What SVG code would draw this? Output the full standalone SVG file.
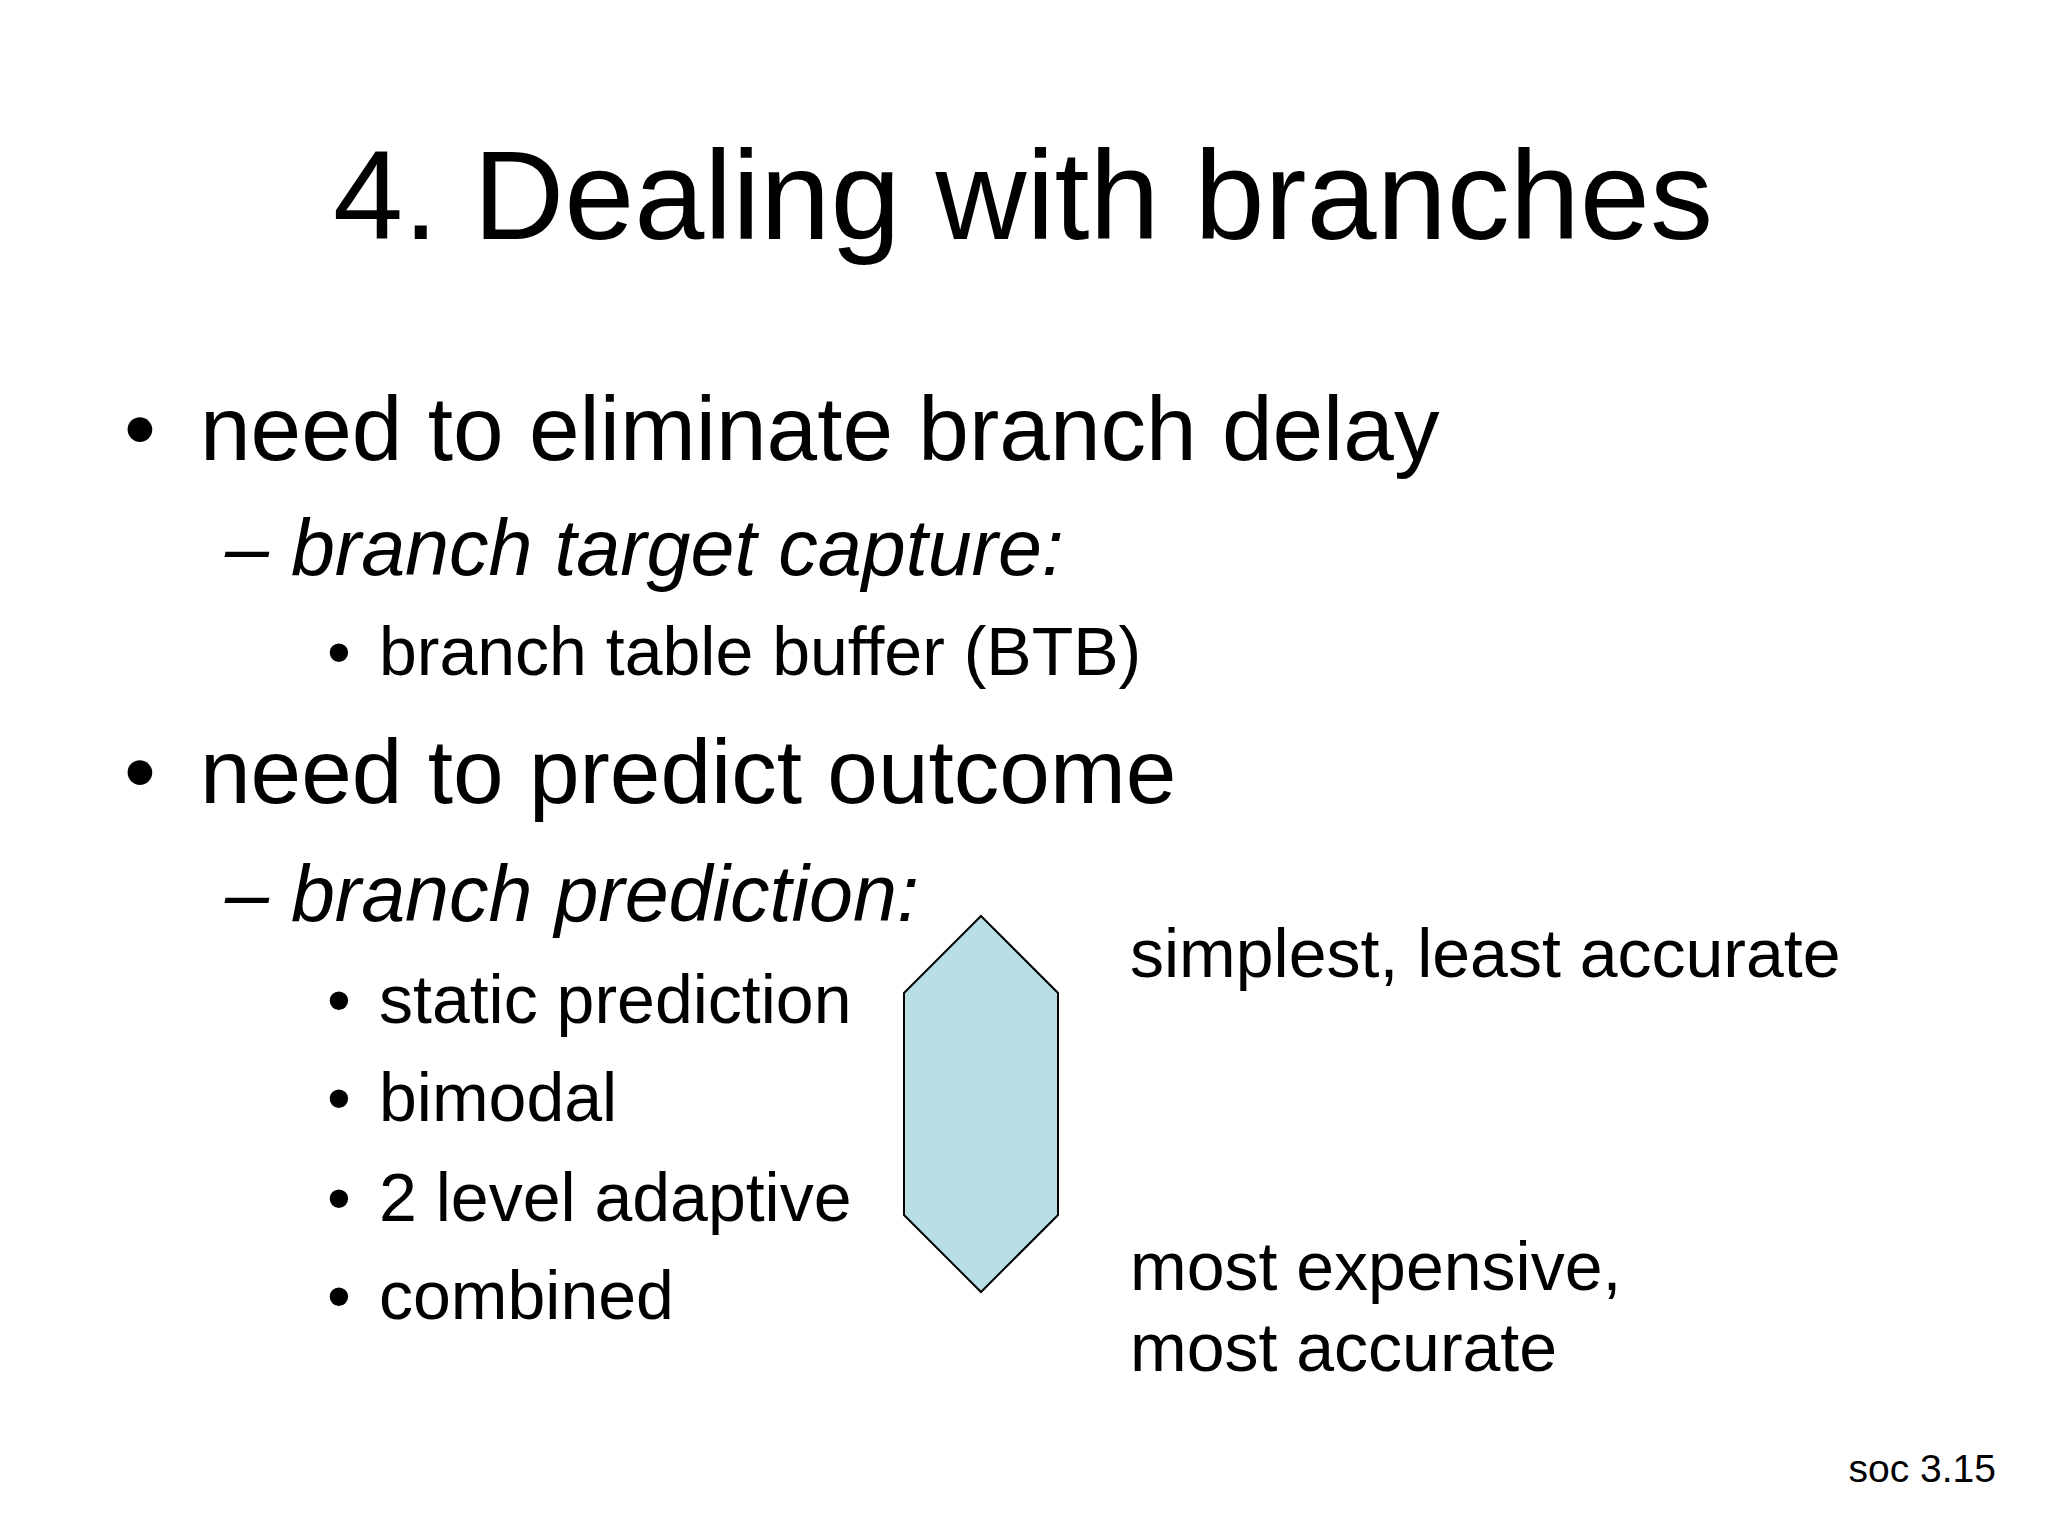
<svg xmlns="http://www.w3.org/2000/svg" width="2048" height="1536" viewBox="0 0 2048 1536">
<style>
text{font-family:"Liberation Sans",Arial,sans-serif;fill:#000}
.l1{font-size:91px}.l2{font-size:79px;font-style:italic}.l3{font-size:68px}
</style>
<rect width="2048" height="1536" fill="#fff"/>
<text x="1023" y="239" font-size="126" text-anchor="middle">4. Dealing with branches</text>
<text class="l1" x="124" y="460">•</text><text class="l1" x="200" y="460">need to eliminate branch delay</text>
<text class="l2" x="225" y="575">– branch target capture:</text>
<text class="l3" x="327" y="675">•</text><text class="l3" x="379" y="675">branch table buffer (BTB)</text>
<text class="l1" x="124" y="803">•</text><text class="l1" x="200" y="803">need to predict outcome</text>
<text class="l2" x="225" y="921">– branch prediction:</text>
<text class="l3" x="327" y="1023">•</text><text class="l3" x="379" y="1023">static prediction</text>
<text class="l3" x="327" y="1121">•</text><text class="l3" x="379" y="1121">bimodal</text>
<text class="l3" x="327" y="1221">•</text><text class="l3" x="379" y="1221">2 level adaptive</text>
<text class="l3" x="327" y="1319">•</text><text class="l3" x="379" y="1319">combined</text>
<g id="hexagon"><polygon points="981,916 1058,993 1058,1215 981,1292 904,1215 904,993" fill="#b8dfe3" stroke="#000" stroke-width="2"/></g>
<text class="l3" x="1130" y="977">simplest, least accurate</text>
<text class="l3" x="1130" y="1290">most expensive,</text>
<text class="l3" x="1130" y="1371">most accurate</text>
<text x="1996" y="1482" font-size="39" text-anchor="end">soc 3.15</text>
</svg>
